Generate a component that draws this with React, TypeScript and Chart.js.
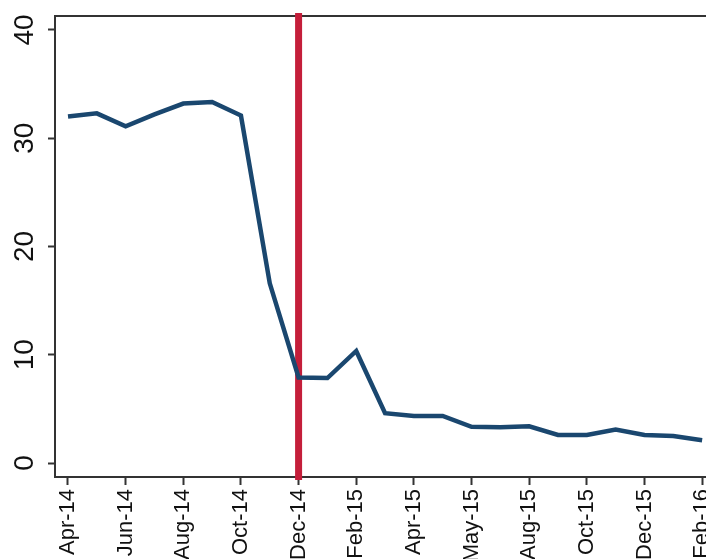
import React, { useEffect, useRef } from "react";
import { Chart, registerables } from "chart.js";

Chart.register(...registerables);

// Monthly observation index (23 observations), labels on every 2nd one
const tickLabels = [
  "Apr-14", "Jun-14", "Aug-14", "Oct-14", "Dec-14", "Feb-15",
  "Apr-15", "May-15", "Aug-15", "Oct-15", "Dec-15", "Feb-16",
];
const seriesValues = [
  32.0, 32.3, 31.1, 32.2, 33.2, 33.35, 32.1, 16.6, 7.9, 7.85, 10.35, 4.6,
  4.35, 4.35, 3.35, 3.3, 3.4, 2.6, 2.6, 3.1, 2.6, 2.5, 2.1,
];
const yTicks = [0, 10, 20, 30, 40];
const eventIndex = 8; // Dec-14
const eventLineRange = [-1.57, 41.57];

const NAVY = "#1a476f";
const RED = "#c41e3a";
const AXIS = "#333333";
const FONT = "'Liberation Sans', Arial, sans-serif";

export default function App() {
  const ref = useRef<HTMLCanvasElement | null>(null);

  useEffect(() => {
    if (!ref.current) return;
    const chart = new Chart(ref.current, {
      type: "line",
      data: {
        datasets: [
          {
            data: seriesValues.map((v, i) => ({ x: i, y: v })),
            borderColor: NAVY,
            borderWidth: 4.5,
            pointRadius: 0,
            tension: 0,
            order: 0,
          },
          {
            data: eventLineRange.map((v) => ({ x: eventIndex, y: v })),
            borderColor: RED,
            borderWidth: 7,
            pointRadius: 0,
            clip: false as any,
            order: 1,
          },
        ],
      },
      options: {
        animation: false,
        responsive: false,
        maintainAspectRatio: false,
        layout: { padding: { left: 0, right: 20, top: 16, bottom: 0 } },
        plugins: { legend: { display: false }, tooltip: { enabled: false } },
        scales: {
          x: {
            type: "linear",
            position: "bottom",
            min: -0.451,
            max: 22.62,
            afterBuildTicks: (scale: any) => {
              scale.ticks = tickLabels.map((_, k) => ({ value: k * 2 }));
            },
            afterFit: (scale: any) => {
              scale.height = 620 - 477;
              scale.paddingLeft = 0;
              scale.paddingRight = 0;
            },
            ticks: {
              autoSkip: false,
              minRotation: 90,
              maxRotation: 90,
              padding: 4,
              color: "#111",
              font: { family: FONT, size: 22 },
              callback: (v: any) => tickLabels[Math.round(Number(v) / 2)] ?? "",
            },
            grid: {
              display: true,
              drawOnChartArea: false,
              drawTicks: true,
              tickLength: 8,
              tickWidth: 2,
              color: AXIS,
            },
            border: { display: true, color: AXIS, width: 2 },
          },
          x2: {
            type: "linear",
            position: "top",
            ticks: { display: false },
            grid: { display: false, drawTicks: false },
            border: { display: true, color: AXIS, width: 2 },
            afterFit: (scale: any) => {
              scale.height = 0;
              scale.paddingLeft = 0;
              scale.paddingRight = 0;
            },
          },
          y: {
            type: "linear",
            min: -1.29,
            max: 41.29,
            afterBuildTicks: (scale: any) => {
              scale.ticks = yTicks.map((v) => ({ value: v }));
            },
            afterFit: (scale: any) => {
              scale.width = 55;
              scale.paddingTop = 0;
              scale.paddingBottom = 0;
            },
            ticks: {
              minRotation: 90,
              maxRotation: 90,
              crossAlign: "center",
              padding: 7,
              color: "#111",
              font: { family: FONT, size: 28 },
            },
            grid: {
              display: true,
              drawOnChartArea: false,
              drawTicks: true,
              tickLength: 7,
              tickWidth: 2,
              color: AXIS,
            },
            border: { display: true, color: AXIS, width: 2 },
          },
        },
      } as any,
    });
    return () => chart.destroy();
  }, []);

  return (
    <div style={{ position: "absolute", left: 0, top: 0, width: 740, height: 620, background: "#fff" }}>
      <canvas ref={ref} width={740} height={620} style={{ display: "block" }} />
    </div>
  );
}
